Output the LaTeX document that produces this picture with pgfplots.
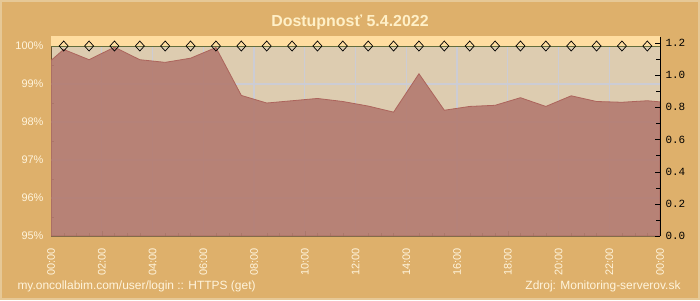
\documentclass[border=0pt]{standalone}
\usepackage{pgfplots}
\pgfplotsset{compat=1.18}
\usepackage{fontspec}
\setmainfont{Liberation Sans}
\newfontfamily\monofont{Liberation Mono}
\definecolor{bgc}{RGB}{222,176,107}
\definecolor{framec}{RGB}{230,200,150}
\definecolor{plotbg}{RGB}{221,204,176}
\definecolor{peach}{RGB}{255,221,160}
\definecolor{areac}{RGB}{179,122,112}
\definecolor{areaedge}{RGB}{172,100,92}
\definecolor{titlec}{RGB}{255,240,200}
\definecolor{labc}{RGB}{255,244,220}
\definecolor{gridc}{RGB}{204,204,212}
\definecolor{olivec}{RGB}{100,110,60}
\definecolor{brownc}{RGB}{105,80,45}
\begin{document}
\begin{tikzpicture}[x=1bp,y=1bp]
\fill[bgc] (0,0) rectangle (700,300);
\draw[framec,line width=2bp] (1,1) rectangle (699,299);
\node[anchor=base, font=\bfseries\fontsize{16}{19}\selectfont, text=titlec] at (350,273.5) {Dostupnosť 5.4.2022};
\node[anchor=base west, font=\fontsize{12}{14}\selectfont, text=labc] at (14,11) {my.oncollabim.com/user/login :: HTTPS (get)};
\node[anchor=base east, font=\fontsize{12}{14}\selectfont, text=labc] at (684,11) {Zdroj: Monitoring-serverov.sk};
\begin{axis}[
  at={(51bp,64bp)}, anchor=south west, scale only axis,
  width=609bp, height=199bp,
  xmin=0, xmax=24, ymin=95, ymax=100.2375,
  axis background/.style={fill=plotbg},
  axis x line*=bottom, axis y line*=left,
  x axis line style={olivec,-, line width=0.8pt},
  y axis line style={brownc,-, line width=0.8pt},
  xtick={0,2,...,24},
  xticklabels={00:00,02:00,04:00,06:00,08:00,10:00,12:00,14:00,16:00,18:00,20:00,22:00,00:00},
  minor x tick num=3,
  ytick={95,96,97,98,99,100},
  yticklabels={95\%,96\%,97\%,98\%,99\%,100\%},
  minor y tick num=1,
  tick align=inside,
  major tick length=5bp, minor tick length=3bp,
  x tick style={olivec}, y tick style={brownc},
  extra x ticks={2,4,6,8,10,12,14,16,18,20,22},
  extra x tick labels={},
  extra x tick style={grid=major, major tick length=0pt},
  extra y ticks={96,97,98,99},
  extra y tick labels={},
  extra y tick style={grid=major, major tick length=0pt},
  grid style={gridc, line width=1.1bp},
  xticklabel shift=9bp,
  xticklabel style={rotate=90, anchor=east, font=\fontsize{11}{13}\selectfont, text=labc},
  yticklabel style={xshift=-4bp, font=\fontsize{11}{13}\selectfont, text=labc},
  clip=true,
]
\fill[peach] (axis cs:0,100) rectangle (axis cs:24,100.5);
\addplot[draw=areaedge, fill=areac, fill opacity=0.9, line width=0.8pt] coordinates {
(0,99.62) (0.5,99.91) (1.5,99.64) (2.5,99.97) (3.5,99.64) (4.5,99.57) (5.5,99.68) (6.5,99.96)
(7.5,98.70) (8.5,98.50) (9.5,98.56) (10.5,98.62) (11.5,98.54) (12.5,98.42) (13.5,98.26)
(14.5,99.27) (15.5,98.31) (16.5,98.41) (17.5,98.44) (18.5,98.64) (19.5,98.41) (20.5,98.69)
(21.5,98.54) (22.5,98.52) (23.5,98.56) (24,98.53)
} \closedcycle;
\addplot[olivec, line width=0.8pt] coordinates {(0,100) (24,100)};
\addplot[only marks, mark=diamond, mark size=5bp, mark options={xscale=1.2, draw=black, fill=none, line width=0.7pt}] coordinates {
(0.5,100) (1.5,100) (2.5,100) (3.5,100) (4.5,100) (5.5,100) (6.5,100) (7.5,100)
(8.5,100) (9.5,100) (10.5,100) (11.5,100) (12.5,100) (13.5,100) (14.5,100) (15.5,100)
(16.5,100) (17.5,100) (18.5,100) (19.5,100) (20.5,100) (21.5,100) (22.5,100) (23.5,100)
};
\end{axis}
\begin{axis}[
  at={(51bp,64bp)}, anchor=south west, scale only axis,
  width=609bp, height=199bp,
  xmin=0, xmax=24, ymin=0, ymax=1.2375,
  axis x line=none, axis y line*=right,
  y axis line style={black,-, line width=0.8pt},
  ytick={0,0.2,0.4,0.6,0.8,1.0,1.2},
  minor y tick num=1,
  tick align=inside,
  major tick length=5bp, minor tick length=4bp,
  y tick style={black},
  yticklabel style={xshift=2bp, font=\monofont\fontsize{11}{13}\selectfont, text=black,
    /pgf/number format/.cd, fixed, fixed zerofill, precision=1, assume math mode=true},
]
\addplot[draw=none] coordinates {(0,0) (24,1)};
\end{axis}
\end{tikzpicture}
\end{document}
